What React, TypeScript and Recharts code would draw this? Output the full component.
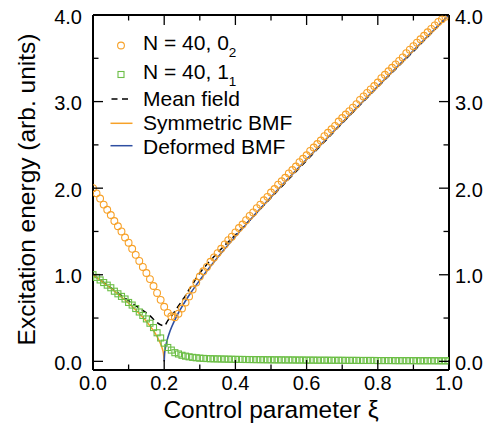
import React from 'react';
import { ComposedChart, XAxis, YAxis, Scatter, Line, Legend } from 'recharts';

// ---------- data ----------
const xi = [
  0, 0.01, 0.02, 0.03, 0.04, 0.05, 0.06, 0.07, 0.08, 0.09,
  0.1, 0.11, 0.12, 0.13, 0.14, 0.15, 0.16, 0.17, 0.18, 0.19,
  0.2, 0.21, 0.22, 0.23, 0.24, 0.25, 0.26, 0.27, 0.28, 0.29,
  0.3, 0.31, 0.32, 0.33, 0.34, 0.35, 0.36, 0.37, 0.38, 0.39,
  0.4, 0.41, 0.42, 0.43, 0.44, 0.45, 0.46, 0.47, 0.48, 0.49,
  0.5, 0.51, 0.52, 0.53, 0.54, 0.55, 0.56, 0.57, 0.58, 0.59,
  0.6, 0.61, 0.62, 0.63, 0.64, 0.65, 0.66, 0.67, 0.68, 0.69,
  0.7, 0.71, 0.72, 0.73, 0.74, 0.75, 0.76, 0.77, 0.78, 0.79,
  0.8, 0.81, 0.82, 0.83, 0.84, 0.85, 0.86, 0.87, 0.88, 0.89,
  0.9, 0.91, 0.92, 0.93, 0.94, 0.95, 0.96, 0.97, 0.98, 0.99,
  1.0,
];

// N = 40, 0_2 (orange circles)
const state02 = [
  2.0, 1.94, 1.88, 1.81, 1.75, 1.69, 1.62, 1.56, 1.5, 1.43,
  1.37, 1.3, 1.23, 1.16, 1.09, 1.02, 0.95, 0.87, 0.79, 0.71,
  0.63, 0.56, 0.52, 0.51, 0.55, 0.61, 0.68, 0.75, 0.83, 0.91,
  0.98, 1.04, 1.09, 1.15, 1.2, 1.25, 1.3, 1.35, 1.4, 1.44,
  1.49, 1.54, 1.58, 1.63, 1.68, 1.72, 1.77, 1.81, 1.86, 1.9,
  1.95, 1.99, 2.04, 2.08, 2.12, 2.17, 2.21, 2.25, 2.3, 2.34,
  2.38, 2.43, 2.47, 2.51, 2.55, 2.6, 2.64, 2.68, 2.72, 2.77,
  2.81, 2.85, 2.89, 2.93, 2.97, 3.02, 3.06, 3.1, 3.14, 3.18,
  3.22, 3.27, 3.31, 3.35, 3.39, 3.43, 3.47, 3.51, 3.56, 3.6,
  3.64, 3.68, 3.72, 3.76, 3.8, 3.84, 3.88, 3.92, 3.95, 3.98,
  4.0,
];

// N = 40, 1_1 (green squares)
const state11 = [
  1.0, 0.97, 0.94, 0.91, 0.88, 0.85, 0.81, 0.78, 0.75, 0.72,
  0.68, 0.65, 0.61, 0.57, 0.53, 0.49, 0.44, 0.39, 0.33, 0.27,
  0.21, 0.16, 0.13, 0.1, 0.085, 0.07, 0.06, 0.052, 0.046, 0.041,
  0.037, 0.034, 0.032, 0.03, 0.029, 0.028, 0.027, 0.026, 0.025, 0.024,
  0.023, 0.022, 0.022, 0.021, 0.021, 0.02, 0.02, 0.019, 0.019, 0.018,
  0.018, 0.017, 0.017, 0.017, 0.016, 0.016, 0.016, 0.015, 0.015, 0.015,
  0.014, 0.014, 0.014, 0.013, 0.013, 0.013, 0.013, 0.012, 0.012, 0.012,
  0.012, 0.011, 0.011, 0.011, 0.011, 0.01, 0.01, 0.01, 0.01, 0.01,
  0.009, 0.009, 0.009, 0.009, 0.009, 0.008, 0.008, 0.008, 0.008, 0.008,
  0.008, 0.007, 0.007, 0.007, 0.007, 0.007, 0.007, 0.006, 0.006, 0.006,
  0.006,
];

// Mean field (dashed)
const meanFieldX = [0, 0.05, 0.1, 0.15, 0.2, 0.21, 0.22, 0.23, 0.24, 0.25, 0.26, 0.27, 0.28, 0.29, 0.3, 0.32, 0.34, 0.37, 0.4, 0.5, 0.6, 0.7, 0.8, 0.9, 1.0];
const meanFieldY = [1.0, 0.85, 0.7, 0.56, 0.41, 0.47, 0.52, 0.58, 0.64, 0.7, 0.76, 0.83, 0.89, 0.96, 1.02, 1.12, 1.21, 1.34, 1.46, 1.89, 2.32, 2.75, 3.17, 3.58, 4.0];

// Symmetric BMF (orange line)
const symBmfX = [0, 0.02, 0.04, 0.06, 0.08, 0.1, 0.12, 0.14, 0.16, 0.17, 0.18, 0.185, 0.19, 0.195, 0.198, 0.2];
const symBmfY = [1.0, 0.939, 0.876, 0.811, 0.743, 0.671, 0.593, 0.508, 0.41, 0.353, 0.286, 0.247, 0.201, 0.142, 0.09, 0.0];

// Deformed BMF (blue line)
const defBmfX = [0.2, 0.201, 0.203, 0.205, 0.21, 0.215, 0.22, 0.23, 0.24, 0.25, 0.27, 0.3, 0.35, 0.4, 0.45, 0.5, 0.6, 0.7, 0.8, 0.9, 1.0];
const defBmfY = [0.0, 0.085, 0.147, 0.19, 0.271, 0.334, 0.388, 0.48, 0.56, 0.632, 0.763, 0.938, 1.2, 1.442, 1.673, 1.897, 2.332, 2.757, 3.175, 3.589, 4.0];

const xTicks = [0, 0.1, 0.2, 0.3, 0.4, 0.5, 0.6, 0.7, 0.8, 0.9, 1.0];
const yTicks = [0, 0.5, 1.0, 1.5, 2.0, 2.5, 3.0, 3.5, 4.0];

// ---------- style ----------
const FONT = '"Liberation Sans", Arial, Helvetica, sans-serif';
const ORANGE = '#F7A128';
const GREEN = '#6BBE45';
const BLUE = '#2F4FA2';
const W = 489;
const H = 427;
const PLOT_LEFT = 93;
const PLOT_RIGHT = 449;
const PLOT_TOP = 15;
const PLOT_BOTTOM = 370;
const MAJOR = 10;
const MINOR = 5.5;

const circleData = xi.map((x, i) => ({ x, y: state02[i] }));
const squareData = xi.map((x, i) => ({ x, y: state11[i] }));
const meanFieldData = meanFieldX.map((x, i) => ({ x, y: meanFieldY[i] }));
const symData = symBmfX.map((x, i) => ({ x, y: symBmfY[i] }));
const defData = defBmfX.map((x, i) => ({ x, y: defBmfY[i] }));

const isMajorX = (v: number) => Math.round(v * 10) % 2 === 0;
const isMajorY = (v: number) => Math.abs(v - Math.round(v)) < 1e-6;

const BottomTick = (props: any) => {
  const { x, y, payload } = props;
  const v = payload.value as number;
  const major = isMajorX(v);
  return (
    <g>
      <line x1={x} x2={x} y1={y} y2={y - (major ? MAJOR : MINOR)} stroke="#000" strokeWidth={1.3} />
      {major && (
        <text x={x} y={y + 20} textAnchor="middle" fontSize={20} fontFamily={FONT} fill="#000">
          {v.toFixed(1)}
        </text>
      )}
    </g>
  );
};

const TopTick = (props: any) => {
  const { x, y, payload } = props;
  const v = payload.value as number;
  const major = isMajorX(v);
  return <line x1={x} x2={x} y1={y} y2={y + (major ? MAJOR : MINOR)} stroke="#000" strokeWidth={1.3} />;
};

const LeftTick = (props: any) => {
  const { x, y, payload } = props;
  const v = payload.value as number;
  const major = isMajorY(v);
  return (
    <g>
      <line x1={x} x2={x + (major ? MAJOR : MINOR)} y1={y} y2={y} stroke="#000" strokeWidth={1.3} />
      {major && (
        <text x={x - 11} y={y + 8.5} textAnchor="end" fontSize={20} fontFamily={FONT} fill="#000">
          {v.toFixed(1)}
        </text>
      )}
    </g>
  );
};

const RightTick = (props: any) => {
  const { x, y, payload } = props;
  const v = payload.value as number;
  const major = isMajorY(v);
  return (
    <g>
      <line x1={x} x2={x - (major ? MAJOR : MINOR)} y1={y} y2={y} stroke="#000" strokeWidth={1.3} />
      {major && (
        <text x={x + 6} y={y + 8.5} textAnchor="start" fontSize={20} fontFamily={FONT} fill="#000">
          {v.toFixed(1)}
        </text>
      )}
    </g>
  );
};

const CircleShape = (p: any) => (
  <circle cx={p.cx} cy={p.cy} r={3.4} fill="none" stroke={ORANGE} strokeWidth={1.1} />
);
const SquareShape = (p: any) => (
  <rect x={p.cx - 3} y={p.cy - 3} width={6} height={6} fill="none" stroke={GREEN} strokeWidth={1.1} />
);

const XTitle = () => (
  <text x={(PLOT_LEFT + PLOT_RIGHT) / 2} y={417.5} textAnchor="middle" fontSize={24.5} fontFamily={FONT} fill="#000">
    Control parameter ξ
  </text>
);

const YTitle = () => (
  <text
    transform={`translate(35, 189.5) rotate(-90)`}
    x={0}
    y={0}
    textAnchor="middle"
    fontSize={24.5}
    fontFamily={FONT}
    fill="#000"
  >
    Excitation energy (arb. units)
  </text>
);

const renderLegend = () => (
  <svg width={W} height={H} style={{ position: 'absolute', left: 0, top: 0, overflow: 'visible' }}>
    <g fontFamily={FONT} fontSize={21}>
      <circle cx={121} cy={45.5} r={3.4} fill="none" stroke={ORANGE} strokeWidth={1.1} />
      <text x={143} y={49.5} fill="#000">
        N = 40, 0<tspan fontSize={13.5} dy={7} fill="#000">2</tspan>
      </text>
      <rect x={118} y={71.5} width={6} height={6} fill="none" stroke={GREEN} strokeWidth={1.1} />
      <text x={143} y={79} fill="#000">
        N = 40, 1<tspan fontSize={13.5} dy={6.5} fill="#000">1</tspan>
      </text>
      <line x1={111.5} x2={128} y1={99} y2={99} stroke="#000" strokeWidth={1.5} strokeDasharray="6 4.5" />
      <text x={143} y={106} fill="#000">Mean field</text>
      <line x1={110.5} x2={132.5} y1={123.3} y2={123.3} stroke={ORANGE} strokeWidth={1.5} />
      <text x={143} y={129.5} fill="#000">Symmetric BMF</text>
      <line x1={110.5} x2={132.5} y1={145.7} y2={145.7} stroke={BLUE} strokeWidth={1.5} />
      <text x={143} y={154} fill="#000">Deformed BMF</text>
    </g>
  </svg>
);

export default function App() {
  return (
    <div style={{ position: 'absolute', left: 0, top: 0, width: W, height: H, background: '#fff', fontFamily: FONT }}>
      <ComposedChart
        width={W}
        height={H}
        margin={{ top: 0, right: 0, bottom: 0, left: 0 }}
      >
        <XAxis
          xAxisId="bottom"
          dataKey="x"
          type="number"
          domain={[0, 1]}
          ticks={xTicks}
          interval={0}
          allowDataOverflow
          orientation="bottom"
          height={H - PLOT_BOTTOM}
          axisLine={{ stroke: '#000', strokeWidth: 2 }}
          tickLine={false}
          tickSize={0}
          tickMargin={0}
          tick={BottomTick}
          label={XTitle}
        />
        <XAxis
          xAxisId="top"
          dataKey="x"
          type="number"
          domain={[0, 1]}
          ticks={xTicks}
          interval={0}
          allowDataOverflow
          orientation="top"
          height={PLOT_TOP}
          axisLine={{ stroke: '#000', strokeWidth: 2 }}
          tickLine={false}
          tickSize={0}
          tickMargin={0}
          tick={TopTick}
        />
        <YAxis
          yAxisId="left"
          type="number"
          domain={[-0.1, 4.0]}
          ticks={yTicks}
          interval={0}
          allowDataOverflow
          orientation="left"
          width={PLOT_LEFT}
          axisLine={{ stroke: '#000', strokeWidth: 2 }}
          tickLine={false}
          tickSize={0}
          tickMargin={0}
          tick={LeftTick}
          label={YTitle}
        />
        <YAxis
          yAxisId="right"
          type="number"
          domain={[-0.1, 4.0]}
          ticks={yTicks}
          interval={0}
          allowDataOverflow
          orientation="right"
          width={W - PLOT_RIGHT}
          axisLine={{ stroke: '#000', strokeWidth: 2 }}
          tickLine={false}
          tickSize={0}
          tickMargin={0}
          tick={RightTick}
        />
        <Scatter
          name="N = 40, 0_2"
          data={circleData}
          dataKey="y"
          xAxisId="bottom"
          yAxisId="left"
          shape={CircleShape}
          isAnimationActive={false}
        />
        <Scatter
          name="N = 40, 1_1"
          data={squareData}
          dataKey="y"
          xAxisId="bottom"
          yAxisId="left"
          shape={SquareShape}
          isAnimationActive={false}
        />
        <Line
          name="Mean field"
          data={meanFieldData}
          dataKey="y"
          xAxisId="bottom"
          yAxisId="left"
          type="monotone"
          stroke="#000"
          strokeWidth={1.5}
          strokeDasharray="6 4"
          dot={false}
          isAnimationActive={false}
        />
        <Line
          name="Symmetric BMF"
          data={symData}
          dataKey="y"
          xAxisId="bottom"
          yAxisId="left"
          type="monotone"
          stroke={ORANGE}
          strokeWidth={1.5}
          dot={false}
          isAnimationActive={false}
        />
        <Line
          name="Deformed BMF"
          data={defData}
          dataKey="y"
          xAxisId="bottom"
          yAxisId="left"
          type="monotone"
          stroke={BLUE}
          strokeWidth={1.6}
          dot={false}
          isAnimationActive={false}
        />
        <Legend
          verticalAlign="middle"
          align="center"
          layout="horizontal"
          content={renderLegend}
          wrapperStyle={{ position: 'absolute', left: 0, top: 0, width: W, height: H, pointerEvents: 'none' }}
        />
      </ComposedChart>
    </div>
  );
}
